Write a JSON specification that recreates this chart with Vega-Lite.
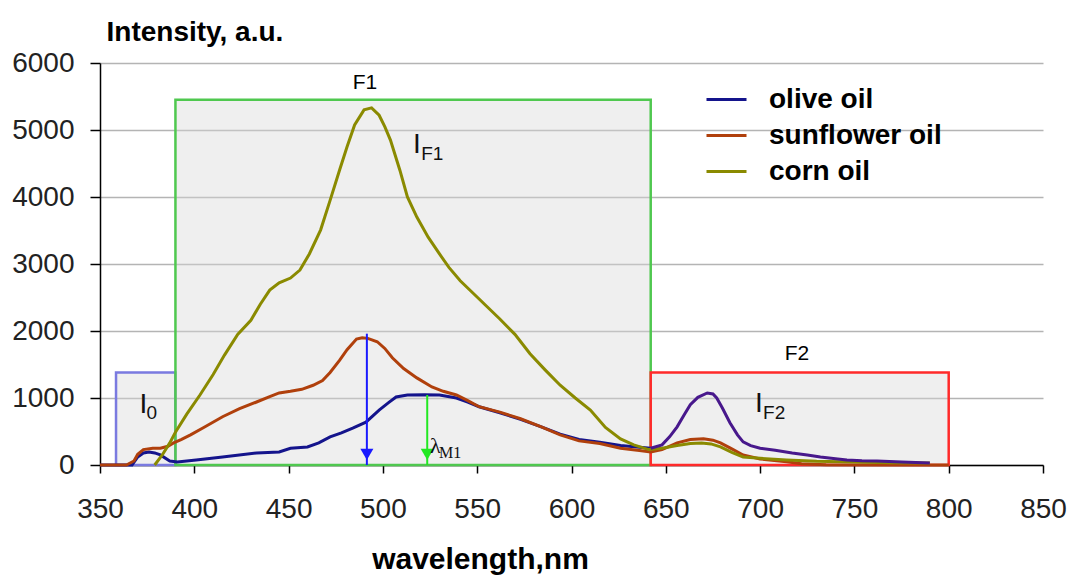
{
  "$schema": "https://vega.github.io/schema/vega-lite/v6.json",
  "autosize": {"type": "none"},
  "padding": {"left": 100, "top": 63, "right": 26, "bottom": 114},
  "width": 943,
  "height": 402,
  "background": "white",
  "config": {
    "view": {"stroke": null},
    "font": "Liberation Sans"
  },
  "datasets": {
    "spectra": [
      {"oil": "olive oil", "nm": 350, "v": 0}, {"oil": "olive oil", "nm": 367, "v": 0},
      {"oil": "olive oil", "nm": 370, "v": 120}, {"oil": "olive oil", "nm": 373, "v": 180},
      {"oil": "olive oil", "nm": 376, "v": 195}, {"oil": "olive oil", "nm": 379, "v": 180},
      {"oil": "olive oil", "nm": 382, "v": 150}, {"oil": "olive oil", "nm": 387, "v": 60},
      {"oil": "olive oil", "nm": 391, "v": 45}, {"oil": "olive oil", "nm": 401, "v": 75},
      {"oil": "olive oil", "nm": 415, "v": 120}, {"oil": "olive oil", "nm": 433, "v": 180},
      {"oil": "olive oil", "nm": 445, "v": 195}, {"oil": "olive oil", "nm": 451, "v": 250},
      {"oil": "olive oil", "nm": 460, "v": 270}, {"oil": "olive oil", "nm": 466, "v": 330},
      {"oil": "olive oil", "nm": 472, "v": 420}, {"oil": "olive oil", "nm": 478, "v": 480},
      {"oil": "olive oil", "nm": 484, "v": 550}, {"oil": "olive oil", "nm": 491, "v": 640},
      {"oil": "olive oil", "nm": 498, "v": 820}, {"oil": "olive oil", "nm": 503, "v": 930},
      {"oil": "olive oil", "nm": 507, "v": 1015}, {"oil": "olive oil", "nm": 513, "v": 1045},
      {"oil": "olive oil", "nm": 522, "v": 1050}, {"oil": "olive oil", "nm": 530, "v": 1045},
      {"oil": "olive oil", "nm": 539, "v": 1000}, {"oil": "olive oil", "nm": 545, "v": 940},
      {"oil": "olive oil", "nm": 551, "v": 870}, {"oil": "olive oil", "nm": 562, "v": 780},
      {"oil": "olive oil", "nm": 573, "v": 680}, {"oil": "olive oil", "nm": 584, "v": 570},
      {"oil": "olive oil", "nm": 594, "v": 460}, {"oil": "olive oil", "nm": 604, "v": 380},
      {"oil": "olive oil", "nm": 615, "v": 340}, {"oil": "olive oil", "nm": 626, "v": 290},
      {"oil": "olive oil", "nm": 636, "v": 265}, {"oil": "olive oil", "nm": 642, "v": 250},
      {"oil": "olive oil", "nm": 648, "v": 300}, {"oil": "olive oil", "nm": 652, "v": 420},
      {"oil": "olive oil", "nm": 656, "v": 570}, {"oil": "olive oil", "nm": 660, "v": 760},
      {"oil": "olive oil", "nm": 663, "v": 900}, {"oil": "olive oil", "nm": 667, "v": 1010},
      {"oil": "olive oil", "nm": 672, "v": 1075}, {"oil": "olive oil", "nm": 675, "v": 1060},
      {"oil": "olive oil", "nm": 677, "v": 1000}, {"oil": "olive oil", "nm": 680, "v": 850},
      {"oil": "olive oil", "nm": 684, "v": 630}, {"oil": "olive oil", "nm": 688, "v": 450},
      {"oil": "olive oil", "nm": 691, "v": 345}, {"oil": "olive oil", "nm": 695, "v": 290},
      {"oil": "olive oil", "nm": 700, "v": 250}, {"oil": "olive oil", "nm": 708, "v": 220},
      {"oil": "olive oil", "nm": 717, "v": 180}, {"oil": "olive oil", "nm": 725, "v": 150},
      {"oil": "olive oil", "nm": 732, "v": 120}, {"oil": "olive oil", "nm": 740, "v": 95},
      {"oil": "olive oil", "nm": 746, "v": 75}, {"oil": "olive oil", "nm": 754, "v": 65},
      {"oil": "olive oil", "nm": 762, "v": 60}, {"oil": "olive oil", "nm": 775, "v": 45},
      {"oil": "olive oil", "nm": 790, "v": 30},

      {"oil": "sunflower oil", "nm": 350, "v": 0}, {"oil": "sunflower oil", "nm": 364, "v": 0},
      {"oil": "sunflower oil", "nm": 368, "v": 60}, {"oil": "sunflower oil", "nm": 370, "v": 160},
      {"oil": "sunflower oil", "nm": 373, "v": 230}, {"oil": "sunflower oil", "nm": 378, "v": 250},
      {"oil": "sunflower oil", "nm": 382, "v": 250}, {"oil": "sunflower oil", "nm": 386, "v": 280},
      {"oil": "sunflower oil", "nm": 389, "v": 330}, {"oil": "sunflower oil", "nm": 393, "v": 380},
      {"oil": "sunflower oil", "nm": 398, "v": 450}, {"oil": "sunflower oil", "nm": 405, "v": 560},
      {"oil": "sunflower oil", "nm": 415, "v": 720}, {"oil": "sunflower oil", "nm": 424, "v": 840},
      {"oil": "sunflower oil", "nm": 433, "v": 940}, {"oil": "sunflower oil", "nm": 440, "v": 1020},
      {"oil": "sunflower oil", "nm": 445, "v": 1075}, {"oil": "sunflower oil", "nm": 451, "v": 1100},
      {"oil": "sunflower oil", "nm": 457, "v": 1130}, {"oil": "sunflower oil", "nm": 463, "v": 1190},
      {"oil": "sunflower oil", "nm": 468, "v": 1260}, {"oil": "sunflower oil", "nm": 472, "v": 1380},
      {"oil": "sunflower oil", "nm": 477, "v": 1560}, {"oil": "sunflower oil", "nm": 481, "v": 1720},
      {"oil": "sunflower oil", "nm": 486, "v": 1880}, {"oil": "sunflower oil", "nm": 489, "v": 1900},
      {"oil": "sunflower oil", "nm": 492, "v": 1890}, {"oil": "sunflower oil", "nm": 497, "v": 1840},
      {"oil": "sunflower oil", "nm": 501, "v": 1740}, {"oil": "sunflower oil", "nm": 505, "v": 1600},
      {"oil": "sunflower oil", "nm": 511, "v": 1440}, {"oil": "sunflower oil", "nm": 518, "v": 1300},
      {"oil": "sunflower oil", "nm": 526, "v": 1165}, {"oil": "sunflower oil", "nm": 532, "v": 1100},
      {"oil": "sunflower oil", "nm": 539, "v": 1045}, {"oil": "sunflower oil", "nm": 545, "v": 960},
      {"oil": "sunflower oil", "nm": 551, "v": 870}, {"oil": "sunflower oil", "nm": 562, "v": 790},
      {"oil": "sunflower oil", "nm": 573, "v": 690}, {"oil": "sunflower oil", "nm": 584, "v": 570},
      {"oil": "sunflower oil", "nm": 594, "v": 450}, {"oil": "sunflower oil", "nm": 604, "v": 360},
      {"oil": "sunflower oil", "nm": 615, "v": 320}, {"oil": "sunflower oil", "nm": 626, "v": 250},
      {"oil": "sunflower oil", "nm": 636, "v": 215}, {"oil": "sunflower oil", "nm": 642, "v": 195},
      {"oil": "sunflower oil", "nm": 648, "v": 230}, {"oil": "sunflower oil", "nm": 656, "v": 330},
      {"oil": "sunflower oil", "nm": 663, "v": 380}, {"oil": "sunflower oil", "nm": 670, "v": 390},
      {"oil": "sunflower oil", "nm": 675, "v": 370}, {"oil": "sunflower oil", "nm": 679, "v": 330},
      {"oil": "sunflower oil", "nm": 685, "v": 240}, {"oil": "sunflower oil", "nm": 691, "v": 150},
      {"oil": "sunflower oil", "nm": 700, "v": 90}, {"oil": "sunflower oil", "nm": 714, "v": 50},
      {"oil": "sunflower oil", "nm": 722, "v": 20}, {"oil": "sunflower oil", "nm": 735, "v": 5},
      {"oil": "sunflower oil", "nm": 800, "v": 0},

      {"oil": "corn oil", "nm": 379, "v": 0}, {"oil": "corn oil", "nm": 383, "v": 150},
      {"oil": "corn oil", "nm": 387, "v": 330}, {"oil": "corn oil", "nm": 390, "v": 490},
      {"oil": "corn oil", "nm": 396, "v": 760}, {"oil": "corn oil", "nm": 403, "v": 1045},
      {"oil": "corn oil", "nm": 410, "v": 1350}, {"oil": "corn oil", "nm": 416, "v": 1640},
      {"oil": "corn oil", "nm": 423, "v": 1950}, {"oil": "corn oil", "nm": 430, "v": 2160},
      {"oil": "corn oil", "nm": 435, "v": 2400}, {"oil": "corn oil", "nm": 440, "v": 2610},
      {"oil": "corn oil", "nm": 445, "v": 2720}, {"oil": "corn oil", "nm": 451, "v": 2790},
      {"oil": "corn oil", "nm": 456, "v": 2910}, {"oil": "corn oil", "nm": 461, "v": 3150},
      {"oil": "corn oil", "nm": 467, "v": 3510}, {"oil": "corn oil", "nm": 472, "v": 3950},
      {"oil": "corn oil", "nm": 477, "v": 4400}, {"oil": "corn oil", "nm": 481, "v": 4750},
      {"oil": "corn oil", "nm": 485, "v": 5075}, {"oil": "corn oil", "nm": 490, "v": 5300},
      {"oil": "corn oil", "nm": 494, "v": 5330}, {"oil": "corn oil", "nm": 498, "v": 5220},
      {"oil": "corn oil", "nm": 501, "v": 5050}, {"oil": "corn oil", "nm": 504, "v": 4850},
      {"oil": "corn oil", "nm": 509, "v": 4400}, {"oil": "corn oil", "nm": 513, "v": 4000},
      {"oil": "corn oil", "nm": 518, "v": 3700}, {"oil": "corn oil", "nm": 524, "v": 3400},
      {"oil": "corn oil", "nm": 530, "v": 3150}, {"oil": "corn oil", "nm": 535, "v": 2950},
      {"oil": "corn oil", "nm": 541, "v": 2750}, {"oil": "corn oil", "nm": 548, "v": 2560},
      {"oil": "corn oil", "nm": 555, "v": 2370}, {"oil": "corn oil", "nm": 562, "v": 2180},
      {"oil": "corn oil", "nm": 570, "v": 1950}, {"oil": "corn oil", "nm": 578, "v": 1660},
      {"oil": "corn oil", "nm": 586, "v": 1420}, {"oil": "corn oil", "nm": 594, "v": 1190},
      {"oil": "corn oil", "nm": 602, "v": 1000}, {"oil": "corn oil", "nm": 610, "v": 820},
      {"oil": "corn oil", "nm": 618, "v": 560}, {"oil": "corn oil", "nm": 626, "v": 390},
      {"oil": "corn oil", "nm": 633, "v": 300}, {"oil": "corn oil", "nm": 641, "v": 230},
      {"oil": "corn oil", "nm": 648, "v": 250}, {"oil": "corn oil", "nm": 656, "v": 290},
      {"oil": "corn oil", "nm": 663, "v": 320}, {"oil": "corn oil", "nm": 669, "v": 330},
      {"oil": "corn oil", "nm": 674, "v": 315}, {"oil": "corn oil", "nm": 679, "v": 270},
      {"oil": "corn oil", "nm": 685, "v": 190}, {"oil": "corn oil", "nm": 691, "v": 120},
      {"oil": "corn oil", "nm": 700, "v": 100}, {"oil": "corn oil", "nm": 714, "v": 75},
      {"oil": "corn oil", "nm": 730, "v": 55}, {"oil": "corn oil", "nm": 749, "v": 45},
      {"oil": "corn oil", "nm": 770, "v": 35}, {"oil": "corn oil", "nm": 790, "v": 30}
    ],
    "bands": [
      {"band": "I0", "x0": 358.5, "x1": 390, "bottom": 0, "top": 1380, "edge": "#7a7ae0"},
      {"band": "F1", "x0": 390, "x1": 642, "bottom": 0, "top": 5450, "edge": "#4fc84f"},
      {"band": "F2", "x0": 642, "x1": 800, "bottom": 0, "top": 1380, "edge": "#ff2a2a"}
    ],
    "arrows": [
      {"nm": 491.5, "from": 1960, "to": 0, "tip": 160, "c": "#1a1aff"},
      {"nm": 523.5, "from": 1045, "to": 0, "tip": 160, "c": "#22e822"}
    ],
    "bigText": [
      {"t": "F1", "nm": 490.5, "v": 5700},
      {"t": "F2", "nm": 719.5, "v": 1650}
    ],
    "intensityLabels": [
      {"t": "I", "nm": 371.0, "v": 776, "size": 28},
      {"t": "0", "nm": 374.6, "v": 687, "size": 19},
      {"t": "I", "nm": 516.0, "v": 4657, "size": 28},
      {"t": "F1", "nm": 520.3, "v": 4552, "size": 19},
      {"t": "I", "nm": 697.3, "v": 791, "size": 28},
      {"t": "F2", "nm": 701.6, "v": 687, "size": 19}
    ],
    "lambda": [
      {"t": "λ", "nm": 525.0, "v": 179, "size": 22},
      {"t": "M1", "nm": 529.7, "v": 104, "size": 16}
    ]
  },
  "layer": [
    {
      "data": {"name": "bands"},
      "mark": {"type": "rect", "fill": "#d6d6d6", "fillOpacity": 0.4, "strokeWidth": 2.5},
      "encoding": {
        "x": {
          "field": "x0",
          "type": "quantitative",
          "scale": {"domain": [350, 850], "nice": false, "zero": false},
          "axis": {
            "values": [350, 400, 450, 500, 550, 600, 650, 700, 750, 800, 850],
            "title": "wavelength,nm",
            "titleFont": "Liberation Sans",
            "titleFontSize": 30,
            "titleFontWeight": "bold",
            "titleColor": "#000",
            "titleX": 380,
            "titleY": 103,
            "titleAlign": "center",
            "titleBaseline": "alphabetic",
            "labelFontSize": 28,
            "labelColor": "#222",
            "labelPadding": 22,
            "labelFlush": false,
            "tickSize": 8,
            "tickColor": "#000",
            "tickWidth": 1.5,
            "domainColor": "#000",
            "domainWidth": 1.5,
            "grid": false
          }
        },
        "x2": {"field": "x1"},
        "y": {
          "field": "bottom",
          "type": "quantitative",
          "scale": {"domain": [0, 6000], "nice": false},
          "axis": {
            "values": [0, 1000, 2000, 3000, 4000, 5000, 6000],
            "format": "d",
            "title": "Intensity, a.u.",
            "titleFont": "Liberation Sans",
            "titleFontSize": 28,
            "titleFontWeight": "bold",
            "titleColor": "#000",
            "titleAngle": 0,
            "titleX": 6,
            "titleY": -23,
            "titleAlign": "left",
            "titleBaseline": "alphabetic",
            "labelFontSize": 28,
            "labelColor": "#222",
            "labelPadding": 16,
            "labelFlush": false,
            "tickSize": 10,
            "tickColor": "#000",
            "tickWidth": 1.5,
            "domainColor": "#000",
            "domainWidth": 1.5,
            "grid": true,
            "gridColor": "#b4b4b4",
            "gridWidth": 1.5
          }
        },
        "y2": {"field": "top"},
        "stroke": {"field": "edge", "type": "nominal", "scale": null}
      }
    },
    {
      "data": {"name": "spectra"},
      "transform": [{"filter": "datum.oil != 'olive oil' || datum.nm <= 642"}],
      "mark": {"type": "line", "strokeWidth": 3},
      "encoding": {
        "x": {"field": "nm", "type": "quantitative"},
        "y": {"field": "v", "type": "quantitative"},
        "color": {
          "field": "oil",
          "type": "nominal",
          "scale": {
            "domain": ["olive oil", "sunflower oil", "corn oil"],
            "range": ["#14148c", "#b0400c", "#8a8a00"]
          },
          "legend": {
            "title": null,
            "orient": "none",
            "legendX": 605,
            "legendY": 15,
            "symbolType": "stroke",
            "symbolSize": 1600,
            "symbolStrokeWidth": 3,
            "labelFont": "Liberation Sans",
            "labelFontSize": 28,
            "labelFontWeight": "bold",
            "labelColor": "#000",
            "labelOffset": 21,
            "labelLimit": 400,
            "rowPadding": -4,
            "padding": 0
          }
        }
      }
    },
    {
      "data": {"name": "spectra"},
      "transform": [{"filter": "datum.oil == 'olive oil' && datum.nm >= 642"}],
      "mark": {"type": "line", "strokeWidth": 3, "color": "#48188c"},
      "encoding": {
        "x": {"field": "nm", "type": "quantitative"},
        "y": {"field": "v", "type": "quantitative"}
      }
    },
    {
      "data": {"name": "arrows"},
      "mark": {"type": "rule", "strokeWidth": 2},
      "encoding": {
        "x": {"field": "nm", "type": "quantitative"},
        "y": {"field": "from", "type": "quantitative"},
        "y2": {"field": "to"},
        "color": {"field": "c", "type": "nominal", "scale": null}
      }
    },
    {
      "data": {"name": "arrows"},
      "mark": {"type": "point", "shape": "triangle-down", "filled": true, "size": 170, "opacity": 1},
      "encoding": {
        "x": {"field": "nm", "type": "quantitative"},
        "y": {"field": "tip", "type": "quantitative"},
        "color": {"field": "c", "type": "nominal", "scale": null}
      }
    },
    {
      "data": {"name": "bigText"},
      "mark": {"type": "text", "font": "Liberation Sans", "fontSize": 21, "color": "#000", "align": "center", "baseline": "middle"},
      "encoding": {
        "x": {"field": "nm", "type": "quantitative"},
        "y": {"field": "v", "type": "quantitative"},
        "text": {"field": "t", "type": "nominal"}
      }
    },
    {
      "data": {"name": "intensityLabels"},
      "mark": {"type": "text", "font": "Liberation Sans", "color": "#111", "align": "left", "baseline": "alphabetic"},
      "encoding": {
        "x": {"field": "nm", "type": "quantitative"},
        "y": {"field": "v", "type": "quantitative"},
        "text": {"field": "t", "type": "nominal"},
        "size": {"field": "size", "type": "quantitative", "scale": null}
      }
    },
    {
      "data": {"name": "lambda"},
      "mark": {"type": "text", "font": "Liberation Serif", "color": "#111", "align": "left", "baseline": "alphabetic"},
      "encoding": {
        "x": {"field": "nm", "type": "quantitative"},
        "y": {"field": "v", "type": "quantitative"},
        "text": {"field": "t", "type": "nominal"},
        "size": {"field": "size", "type": "quantitative", "scale": null}
      }
    }
  ]
}
